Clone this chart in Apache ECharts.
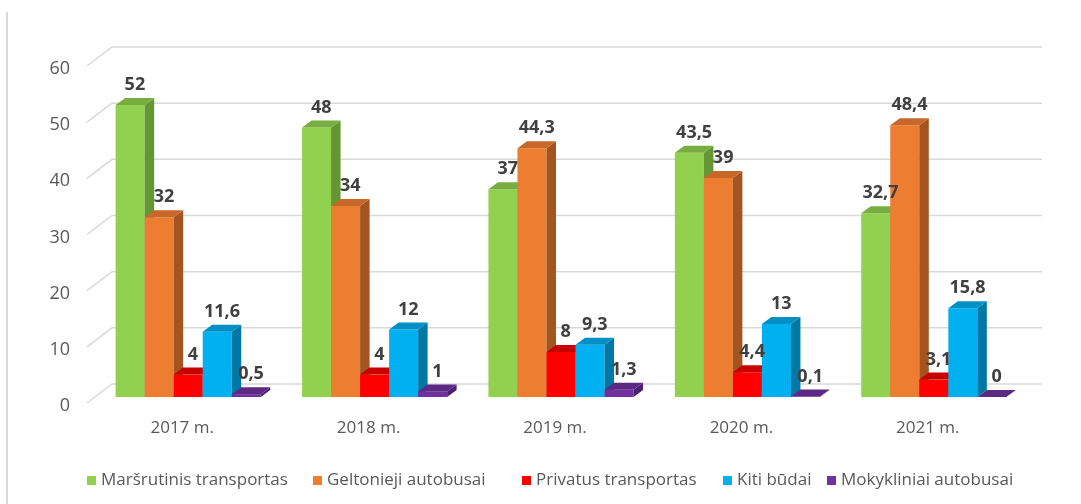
<!DOCTYPE html>
<html>
<head>
<meta charset="utf-8">
<script src="https://cdn.jsdelivr.net/npm/echarts@6/dist/echarts.min.js"></script>
<style>
  html, body { margin: 0; padding: 0; background: #fff; }
  #main { width: 1081px; height: 504px; }
</style>
</head>
<body>
<div id="main"></div>
<script>
var years = ['2017 m.', '2018 m.', '2019 m.', '2020 m.', '2021 m.'];
var names = ['Maršrutinis transportas', 'Geltonieji autobusai', 'Privatus transportas', 'Kiti būdai', 'Mokykliniai autobusai'];
var marsrutinis = [52, 48, 37, 43.5, 32.7];
var geltonieji = [32, 34, 44.3, 39, 48.4];
var privatus = [4, 4, 8, 4.4, 3.1];
var kiti = [11.6, 12, 9.3, 13, 15.8];
var mokykliniai = [0.5, 1, 1.3, 0.1, 0];
var yTicks = [0, 10, 20, 30, 40, 50, 60];

var allData = [marsrutinis, geltonieji, privatus, kiti, mokykliniai];
// front, side, top
var colors = [
    ['#92d050', '#649634', '#77ae3f'],
    ['#ed7d31', '#a3541f', '#c8672a'],
    ['#ff0000', '#b00000', '#c80000'],
    ['#00b0f0', '#0078a6', '#0090c6'],
    ['#7030a0', '#4e2070', '#5c2a85']
];
var legendLeft = [82, 308, 517, 718, 822];
var DX = 9.5, DY = -7;

var chart = echarts.init(document.getElementById('main'));

function barGeom(api, s) {
    var cat = api.value(0);
    var top = api.coord([cat, api.value(1)]);
    var base = api.coord([cat, 0]);
    var band = api.size([1, 0])[0];
    var w = band * 0.1557;
    var x0 = top[0] - w * 2.5 + s * w;
    return {x0: x0, w: w, top: top[1], bottom: base[1]};
}

function barSeries(s) {
    return {
        name: names[s],
        type: 'custom',
        z: 3,
        itemStyle: {color: colors[s][0]},
        data: allData[s].map(function (v, i) { return [i, v]; }),
        renderItem: function (params, api) {
            var g = barGeom(api, s);
            var x1 = g.x0 + g.w;
            return {
                type: 'group',
                children: [
                    {type: 'rect', shape: {x: g.x0, y: g.top, width: g.w, height: g.bottom - g.top},
                        style: {fill: colors[s][0]}},
                    {type: 'polygon', shape: {points: [[x1, g.top], [x1 + DX, g.top + DY], [x1 + DX, g.bottom + DY], [x1, g.bottom]]},
                        style: {fill: colors[s][1]}},
                    {type: 'polygon', shape: {points: [[g.x0, g.top], [g.x0 + DX, g.top + DY], [x1 + DX, g.top + DY], [x1, g.top]]},
                        style: {fill: colors[s][2]}}
                ]
            };
        }
    };
}

function labelSeries(s) {
    return {
        name: 'lbl' + s,
        type: 'custom',
        z: 6,
        silent: true,
        data: allData[s].map(function (v, i) { return [i, v]; }),
        renderItem: function (params, api) {
            var g = barGeom(api, s);
            return {
                type: 'text',
                style: {
                    text: String(api.value(1)).replace('.', ','),
                    x: g.x0 + g.w / 2 + DX / 2,
                    y: g.top + DY - 13,
                    align: 'center',
                    verticalAlign: 'middle',
                    fill: '#404040',
                    font: 'bold 18px "Open Sans"'
                }
            };
        }
    };
}

var series = [{
    name: 'grid',
    type: 'custom',
    z: 1,
    silent: true,
    data: yTicks.map(function (v) { return [0, v]; }),
    renderItem: function (params, api) {
        var cs = params.coordSys;
        var y = api.coord([0, api.value(1)])[1];
        return {
            type: 'polyline',
            shape: {points: [[cs.x - 8, y + 6], [cs.x + 17, y - 13], [cs.x + cs.width + 15, y - 13]]},
            style: {stroke: '#d9d9d9', lineWidth: 1.5, fill: null}
        };
    }
}];
for (var s = 0; s < 5; s++) series.push(barSeries(s));
for (var s = 0; s < 5; s++) series.push(labelSeries(s));

var legends = names.map(function (n, i) {
    return {
        data: [n],
        left: legendLeft[i],
        top: 467,
        icon: 'rect',
        itemWidth: 9,
        itemHeight: 9,
        itemGap: 5,
        textStyle: {color: '#595959', fontSize: 17, fontFamily: 'Open Sans'}
    };
});

var option = {
    backgroundColor: '#fff',
    animation: false,
    legend: legends,
    grid: {left: 95, right: 54, top: 60, bottom: 107},
    xAxis: {
        type: 'category',
        data: years,
        axisLine: {show: false},
        axisTick: {show: false},
        axisLabel: {color: '#595959', fontSize: 17, fontFamily: 'Open Sans', margin: 23, padding: [0, 12, 0, 0]}
    },
    yAxis: {
        type: 'value',
        min: 0,
        max: 60,
        interval: 10,
        axisLine: {show: false},
        splitLine: {show: false},
        axisLabel: {color: '#595959', fontSize: 18, fontFamily: 'Open Sans', margin: 25,
            verticalAlign: 'top', lineHeight: 18}
    },
    graphic: [{
        type: 'line',
        shape: {x1: 7, y1: 12, x2: 7, y2: 504},
        style: {stroke: '#d9d9d9', lineWidth: 2}
    }],
    series: series
};
chart.setOption(option);
</script>
</body>
</html>
